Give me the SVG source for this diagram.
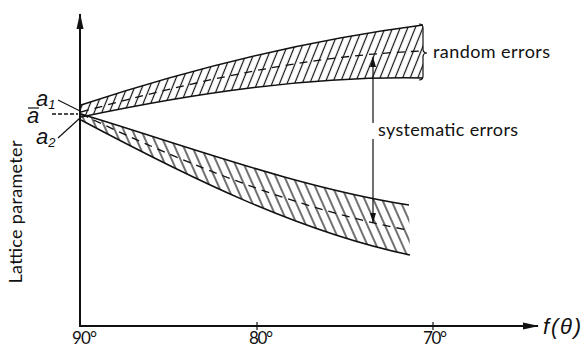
<svg xmlns="http://www.w3.org/2000/svg" width="584" height="349" viewBox="0 0 584 349">
<style>
.ax{stroke:#111;stroke-width:2;fill:none}
.edge{stroke:#111;stroke-width:1.5;fill:none}
.dash{stroke:#111;stroke-width:1.3;fill:none;stroke-dasharray:8 6}
.thin{stroke:#111;stroke-width:1.2;fill:none}
.lbl{font-family:Lato,"Open Sans","DejaVu Sans",sans-serif;font-size:18px;fill:#111}
.tk{font-family:Lato,"Open Sans","DejaVu Sans",sans-serif;font-size:17px;fill:#111}
.it{font-family:"Liberation Sans",Arial,sans-serif;font-style:italic;fill:#111}
</style>
<defs>
<pattern id="hU" patternUnits="userSpaceOnUse" width="7" height="20" patternTransform="rotate(22)">
<line x1="3.5" y1="-1" x2="3.5" y2="21" stroke="#111" stroke-width="1.2"/>
</pattern>
<pattern id="hL" patternUnits="userSpaceOnUse" width="8" height="20" patternTransform="rotate(-24)">
<line x1="4" y1="-1" x2="4" y2="21" stroke="#111" stroke-width="1.2"/>
</pattern>
<marker id="ah" viewBox="0 0 10 6" refX="10" refY="3" markerWidth="10" markerHeight="6" markerUnits="userSpaceOnUse" orient="auto">
<path d="M0,0 L10,3 L0,6 Z" fill="#111"/>
</marker>
<marker id="axh" viewBox="0 0 16 8" refX="15" refY="4" markerWidth="16" markerHeight="8" markerUnits="userSpaceOnUse" orient="auto">
<path d="M0,0.5 L16,4 L0,7.5 Z" fill="#111"/>
</marker>
</defs>

<g id="axes">
<line class="ax" x1="80" y1="327" x2="80" y2="14" marker-end="url(#axh)"/>
<line class="ax" x1="79" y1="326" x2="538" y2="326" marker-end="url(#axh)"/>
<line class="thin" x1="257" y1="322" x2="257" y2="330"/>
<line class="thin" x1="433" y1="322" x2="433" y2="330"/>
<text class="tk" x="72" y="344" textLength="25">90°</text>
<text class="tk" x="249" y="344" textLength="24">80°</text>
<text class="tk" x="423" y="344" textLength="24">70°</text>
<text class="it" x="543" y="334" font-size="22" textLength="38">f(θ)</text>
<text class="lbl" transform="translate(22,212) rotate(-90)" text-anchor="middle" textLength="143">Lattice parameter</text>
</g>

<g id="upper-band">
<path d="M81,105 C195,67.4 309,39.8 423,25 L423,78 C309,76 195,93 81,117 Z" fill="url(#hU)"/>
<path class="edge" d="M81,105 C195,67.4 309,39.8 423,25"/>
<path class="edge" d="M81,117 C195,93 309,76 423,78"/>
<path class="dash" d="M81,112 C195,81 309,55 423,51"/>
<path class="thin" d="M419,24 Q423,24 423,28 L423,49 Q423,53 427,53 Q423,53 423,57 L423,76 Q423,80 419,80"/>
<text class="lbl" x="433" y="58" textLength="117">random errors</text>
</g>

<g id="lower-band">
<path d="M81,114 C190,147 300,188 409,205 L410,255 C300,232 190,178 81,120 Z" fill="url(#hL)"/>
<path class="edge" d="M81,114 C190,147 300,188 409,205"/>
<path class="edge" d="M81,120 C190,178 300,232 410,255"/>
<path class="dash" d="M81,114 C190,166 300,210 408,230"/>
</g>

<g id="labels-left">
<text class="it" x="36" y="106" font-size="22">a<tspan font-size="13" dy="3">1</tspan></text>
<text class="it" x="27" y="123" font-size="22">a</text>
<line class="thin" x1="28" y1="108" x2="39" y2="108"/>
<text class="it" x="36" y="144" font-size="22">a<tspan font-size="13" dy="3">2</tspan></text>
<line class="thin" x1="58" y1="100" x2="80" y2="111"/>
<line class="thin" x1="58" y1="138" x2="80" y2="118"/>
<line class="dash" x1="52" y1="114" x2="78" y2="114" style="stroke-dasharray:4 2"/>
</g>

<g id="connectors">
<line class="thin" x1="373" y1="123" x2="373" y2="57" marker-end="url(#ah)"/>
<line class="thin" x1="373" y1="139" x2="373" y2="223" marker-end="url(#ah)"/>
<text class="lbl" x="378" y="136" textLength="140">systematic errors</text>
</g>
</svg>
